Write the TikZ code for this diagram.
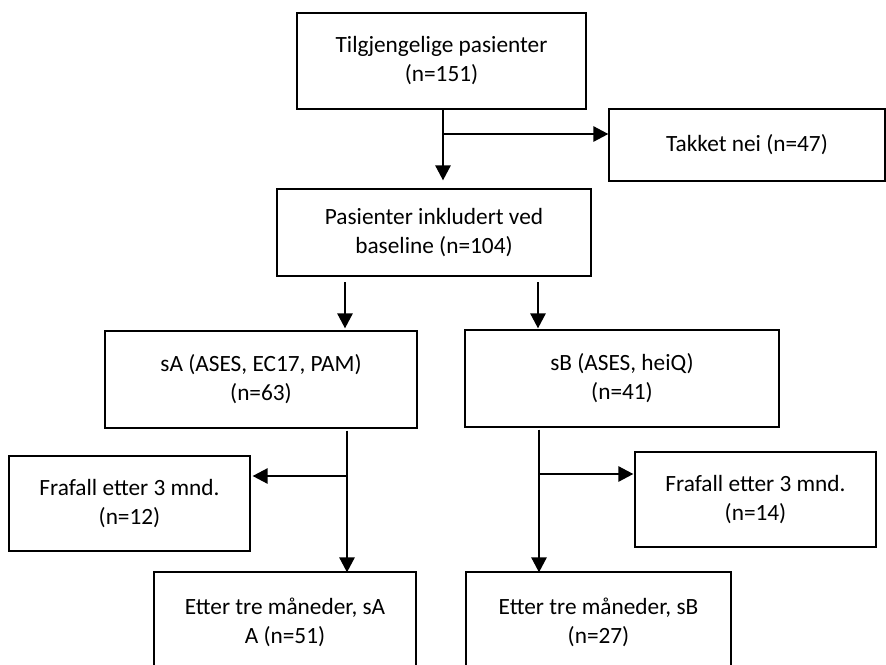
\documentclass[tikz,border=0pt]{standalone}
\usepackage{fontspec}
\setmainfont{Carlito}
\usetikzlibrary{arrows.meta,calc}
\begin{document}
\begin{tikzpicture}[x=1pt,y=-1pt,
  box/.style={draw=black,line width=1.2pt,fill=white,align=center,inner sep=0pt,
    font=\fontsize{23.3}{29}\selectfont},
  ln/.style={line width=2.6pt},
  arr/.style={line width=2.6pt,-{Triangle[length=15pt,width=15pt]}}]
\useasboundingbox (0,0) rectangle (886,664);
\clip (0,0) rectangle (886,664);
\node[box,minimum width=289pt,minimum height=96pt] (b1) at (441.5,61) {Tilgjengelige pasienter\\(n=151)};
\node[box,minimum width=276pt,minimum height=72pt] (tk) at (747,145) {Takket nei (n=47)};
\node[box,minimum width=314pt,minimum height=87pt] (b2) at (434,232.5) {Pasienter inkludert ved\\baseline (n=104)};
\node[box,minimum width=312pt,minimum height=97pt] (sA) at (261,379.5) {sA (ASES, EC17, PAM)\\(n=63)};
\node[box,minimum width=314pt,minimum height=97pt] (sB) at (622,378.5) {sB (ASES, heiQ)\\(n=41)};
\node[box,minimum width=241pt,minimum height=95pt] (f1) at (129.5,503.5) {Frafall etter 3 mnd.\\(n=12)};
\node[box,minimum width=241pt,minimum height=95pt] (f2) at (755.5,499.5) {Frafall etter 3 mnd.\\(n=14)};
\node[box,minimum width=262pt,minimum height=101pt] (e1) at (285,622.5) {Etter tre måneder, sA\\A (n=51)};
\node[box,minimum width=265pt,minimum height=101pt] (e2) at (598.5,622.5) {Etter tre måneder, sB\\(n=27)};
% top junction
\coordinate (j1) at (443,134);
\draw[ln] (j1 |- b1.south) -- (j1);
\draw[arr,shorten >=8pt] (j1) -- (j1 |- b2.north);
\draw[arr] (j1) -- (j1 -| tk.west);
% split arrows
\coordinate (a1) at (345,282);
\coordinate (a2) at (538,282);
\draw[arr,shorten >=2pt] (a1) -- (a1 |- sA.north);
\draw[arr,shorten >=1pt] (a2) -- (a2 |- sB.north);
% lower left
\coordinate (c1) at (347,476);
\draw[arr,shorten >=-1pt] ([yshift=-2pt]c1 |- sA.south) -- (c1 |- e1.north);
\draw[arr,shorten >=2pt] (c1) -- (c1 -| f1.east);
% lower right
\coordinate (c2) at (539,474);
\draw[arr,shorten >=-1pt] ([yshift=-2pt]c2 |- sB.south) -- (c2 |- e2.north);
\draw[arr,shorten >=1pt] (c2) -- (c2 -| f2.west);
\end{tikzpicture}
\end{document}
